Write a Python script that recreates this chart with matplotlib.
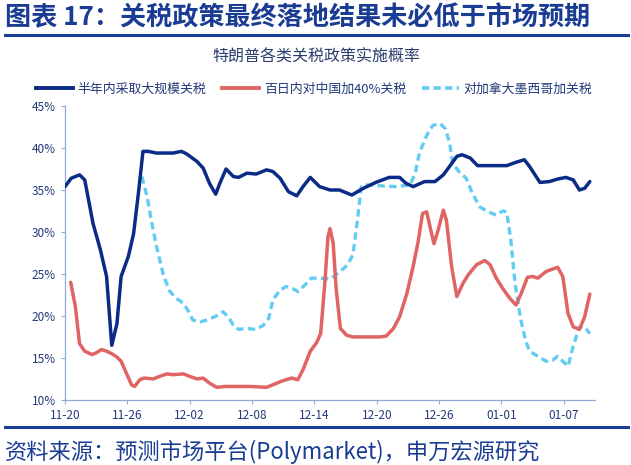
import matplotlib.pyplot as plt
from matplotlib.lines import Line2D

plt.rcParams['font.family'] = ['Noto Sans CJK SC', 'DejaVu Sans']

# days since 11-20
tick_days = [0, 6, 12, 18, 24, 30, 36, 42, 48]
tick_labels = ["11-20", "11-26", "12-02", "12-08", "12-14", "12-20", "12-26", "01-01", "01-07"]

blue_x = [0, 0.6, 1.4, 1.9, 2.7, 3.4, 4.0, 4.5, 5.0, 5.4, 6.1, 6.6, 7.1, 7.5, 8.0, 8.8, 10.4,
          11.2, 11.7, 12.7, 13.3, 13.9, 14.5, 14.9, 15.5, 16.2, 16.7, 17.5, 18.4, 19.4, 20.0,
          20.7, 21.5, 22.3, 22.9, 23.6, 24.5, 25.5, 26.4, 27.6, 28.7, 29.9, 31.2, 32.2, 32.8,
          33.5, 34.6, 35.6, 36.4, 37.0, 37.7, 38.2, 39.0, 39.7, 40.5, 42.5, 43.4, 44.2, 44.7,
          45.7, 46.6, 47.4, 48.2, 48.9, 49.5, 50.0, 50.5]
blue_y = [35.4, 36.4, 36.8, 36.2, 31.0, 27.9, 24.7, 16.5, 19.1, 24.7, 27.1, 29.8, 35.0, 39.6,
          39.6, 39.4, 39.4, 39.6, 39.3, 38.4, 37.6, 35.8, 34.5, 35.8, 37.5, 36.6, 36.5, 37.0,
          36.9, 37.4, 37.2, 36.4, 34.8, 34.3, 35.4, 36.5, 35.4, 35.0, 35.0, 34.4, 35.2, 35.9,
          36.5, 36.5, 35.8, 35.4, 36.0, 36.0, 36.8, 37.8, 39.0, 39.2, 38.8, 37.9, 37.9, 37.9,
          38.3, 38.6, 37.8, 35.9, 36.0, 36.3, 36.5, 36.2, 35.0, 35.2, 36.0]

red_x = [0.55, 1.0, 1.4, 1.9, 2.6, 3.0, 3.5, 4.0, 4.5, 5.0, 5.4, 5.9, 6.4, 6.7, 7.2, 7.6, 8.5,
         9.1, 9.8, 10.4, 11.4, 12.0, 12.7, 13.3, 13.9, 14.6, 15.4, 16.2, 17.8, 19.4, 20.0, 21.0,
         21.8, 22.4, 22.9, 23.6, 24.2, 24.6, 25.0, 25.3, 25.5, 25.8, 26.1, 26.5, 27.1, 27.7,
         29.0, 30.3, 30.9, 31.6, 32.2, 32.9, 33.5, 34.0, 34.4, 34.8, 35.2, 35.5, 35.9, 36.4,
         36.7, 37.2, 37.7, 38.3, 38.8, 39.6, 40.4, 40.9, 41.5, 42.1, 42.8, 43.4, 43.9, 44.5,
         45.0, 45.5, 46.3, 47.4, 47.9, 48.4, 48.9, 49.5, 50.0, 50.5]
red_y = [24.0, 21.1, 16.7, 15.8, 15.4, 15.6, 16.0, 15.8, 15.5, 15.1, 14.6, 13.2, 11.8, 11.6,
         12.4, 12.6, 12.5, 12.8, 13.1, 13.0, 13.1, 12.8, 12.5, 12.6, 12.0, 11.5, 11.6, 11.6,
         11.6, 11.5, 11.8, 12.3, 12.6, 12.4, 13.6, 15.8, 16.8, 17.9, 23.9, 29.4, 30.4, 28.7,
         23.1, 18.5, 17.7, 17.5, 17.5, 17.5, 17.6, 18.5, 19.9, 22.7, 25.9, 29.0, 32.2, 32.4,
         30.2, 28.6, 30.2, 32.6, 31.4, 25.9, 22.3, 23.9, 24.9, 26.1, 26.6, 26.1, 24.5, 23.3,
         22.1, 21.3, 22.7, 24.6, 24.7, 24.5, 25.3, 25.8, 24.7, 20.3, 18.7, 18.4, 19.9, 22.6]

cyan_x = [7.4, 7.9, 8.3, 8.8, 9.5, 10.1, 10.7, 11.4, 11.9, 12.3, 13.0, 13.6, 14.4, 15.2, 15.7,
          16.2, 16.7, 17.5, 18.4, 19.1, 19.6, 20.0, 20.7, 21.3, 22.0, 22.4, 23.1, 23.7, 24.5,
          25.5, 26.4, 27.2, 27.7, 28.1, 28.5, 29.0, 30.3, 31.9, 33.2, 33.7, 34.1, 34.8, 35.4,
          36.1, 36.6, 37.0, 37.3, 37.9, 38.6, 39.2, 39.9, 40.7, 41.5, 42.1, 42.5, 42.9, 43.3,
          43.8, 44.3, 44.7, 45.5, 46.3, 46.9, 47.4, 47.9, 48.4, 48.9, 49.5, 50.0, 50.5]
cyan_y = [36.6, 34.2, 31.4, 28.3, 24.7, 22.9, 22.1, 21.5, 20.5, 19.5, 19.3, 19.5, 19.9, 20.5,
          19.9, 18.9, 18.4, 18.5, 18.4, 18.9, 19.7, 21.9, 23.1, 23.5, 23.2, 22.9, 23.7, 24.5,
          24.5, 24.4, 25.2, 26.1, 27.3, 31.0, 35.4, 35.6, 35.5, 35.4, 35.6, 37.0, 39.4, 41.5,
          42.7, 42.9, 42.3, 40.6, 38.2, 37.2, 36.4, 34.6, 33.0, 32.4, 32.0, 32.5, 32.4, 29.0,
          23.9, 19.9, 17.1, 15.8, 15.2, 14.6, 14.7, 15.2, 14.6, 14.0, 16.4, 18.7, 18.7, 17.9]

names = ["半年内采取大规模关税", "百日内对中国加40%关税", "对加拿大墨西哥加关税"]
navy = "#0B2C86"
red = "#E06464"
cyan = "#62CCF2"
text_col = "#23397A"
spine_col = "#8FAAD6"
head_col = "#1A3C92"

fig = plt.figure(figsize=(6.31, 4.65), dpi=100)
ax = fig.add_axes([0.103, 0.140, 0.840, 0.632])

ax.plot(blue_x, blue_y, color=navy, lw=2.5, solid_joinstyle='round', solid_capstyle='round', zorder=3)
ax.plot(red_x, red_y, color=red, lw=2.5, solid_joinstyle='round', solid_capstyle='round', zorder=2)
ax.plot(cyan_x, cyan_y, color=cyan, lw=2.4, ls=(0, (2.2, 1.3)), dash_joinstyle='round', zorder=1)

ax.set_xlim(0, 51)
ax.set_ylim(10, 45)
ax.set_yticks(range(10, 46, 5))
ax.set_yticklabels([f"{v}%" for v in range(10, 46, 5)])
ax.set_xticks(tick_days)
ax.set_xticklabels(tick_labels)
ax.tick_params(colors=spine_col, labelcolor=text_col, labelsize=8.5, length=3, width=0.8)
for side in ['top', 'right']:
    ax.spines[side].set_visible(False)
for side in ['left', 'bottom']:
    ax.spines[side].set_color(spine_col)
    ax.spines[side].set_linewidth(0.9)

# legend
handles = [Line2D([], [], color=navy, lw=2.8),
           Line2D([], [], color=red, lw=2.8),
           Line2D([], [], color=cyan, lw=2.6, ls=(0, (2.0, 1.2)))]
fig.legend(handles, names, loc='center', bbox_to_anchor=(0.4976, 0.809), ncol=3, frameon=False,
           fontsize=9.3, labelcolor=text_col, handlelength=2.9, columnspacing=1.2, handletextpad=0.35)

# title, subtitle, rules, footer
fig.text(0.008, 0.961, "图表 17：关税政策最终落地结果未必低于市场预期", fontsize=18.8, fontweight='bold',
         color=head_col, ha='left', va='center')
fig.add_artist(Line2D([0.008, 0.995], [0.925, 0.925], color=head_col, lw=2.2))
fig.text(0.502, 0.877, "特朗普各类关税政策实施概率", fontsize=11.5, color="#2B3F6E", ha='center', va='center')
fig.add_artist(Line2D([0.008, 0.995], [0.082, 0.082], color=head_col, lw=2.2))
fig.text(0.008, 0.028, "资料来源：预测市场平台(Polymarket)，申万宏源研究", fontsize=16,
         color=head_col, ha='left', va='center')

fig.savefig("out.png", dpi=100)
